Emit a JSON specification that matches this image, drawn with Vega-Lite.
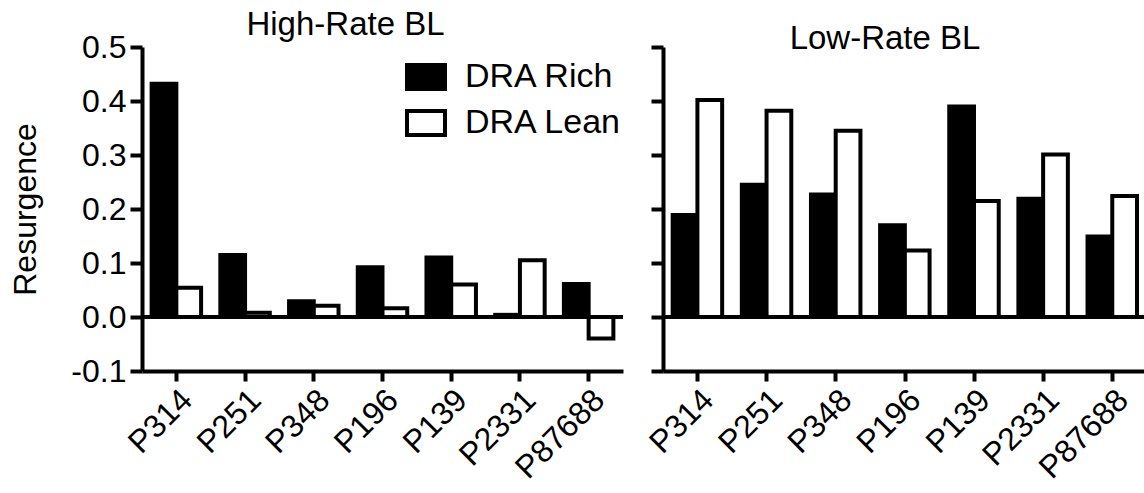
{
  "$schema": "https://vega.github.io/schema/vega-lite/v6.json",
  "padding": {"left": 9, "top": 9, "right": 0, "bottom": 0},
  "background": "white",
  "config": {
    "font": "Liberation Sans",
    "view": {"stroke": null},
    "axis": {"grid": false, "domainColor": "black", "domainWidth": 4, "tickColor": "black", "tickWidth": 4, "labelColor": "black", "titleColor": "black", "labelFont": "Liberation Sans", "titleFont": "Liberation Sans", "titleFontWeight": "normal"},
    "title": {"font": "Liberation Sans", "fontWeight": "normal", "color": "black"}
  },
  "datasets": {
    "d": [
      {"panel": "High", "probe": "P314", "series": "DRA Rich", "value": 0.432},
      {"panel": "High", "probe": "P314", "series": "DRA Lean", "value": 0.054},
      {"panel": "High", "probe": "P251", "series": "DRA Rich", "value": 0.115},
      {"panel": "High", "probe": "P251", "series": "DRA Lean", "value": 0.008},
      {"panel": "High", "probe": "P348", "series": "DRA Rich", "value": 0.029},
      {"panel": "High", "probe": "P348", "series": "DRA Lean", "value": 0.021},
      {"panel": "High", "probe": "P196", "series": "DRA Rich", "value": 0.092},
      {"panel": "High", "probe": "P196", "series": "DRA Lean", "value": 0.016},
      {"panel": "High", "probe": "P139", "series": "DRA Rich", "value": 0.110},
      {"panel": "High", "probe": "P139", "series": "DRA Lean", "value": 0.060},
      {"panel": "High", "probe": "P2331", "series": "DRA Rich", "value": 0.004},
      {"panel": "High", "probe": "P2331", "series": "DRA Lean", "value": 0.105},
      {"panel": "High", "probe": "P87688", "series": "DRA Rich", "value": 0.061},
      {"panel": "High", "probe": "P87688", "series": "DRA Lean", "value": -0.040},
      {"panel": "Low", "probe": "P314", "series": "DRA Rich", "value": 0.189},
      {"panel": "Low", "probe": "P314", "series": "DRA Lean", "value": 0.402},
      {"panel": "Low", "probe": "P251", "series": "DRA Rich", "value": 0.245},
      {"panel": "Low", "probe": "P251", "series": "DRA Lean", "value": 0.382},
      {"panel": "Low", "probe": "P348", "series": "DRA Rich", "value": 0.227},
      {"panel": "Low", "probe": "P348", "series": "DRA Lean", "value": 0.345},
      {"panel": "Low", "probe": "P196", "series": "DRA Rich", "value": 0.170},
      {"panel": "Low", "probe": "P196", "series": "DRA Lean", "value": 0.123},
      {"panel": "Low", "probe": "P139", "series": "DRA Rich", "value": 0.390},
      {"panel": "Low", "probe": "P139", "series": "DRA Lean", "value": 0.215},
      {"panel": "Low", "probe": "P2331", "series": "DRA Rich", "value": 0.219},
      {"panel": "Low", "probe": "P2331", "series": "DRA Lean", "value": 0.301},
      {"panel": "Low", "probe": "P87688", "series": "DRA Rich", "value": 0.149},
      {"panel": "Low", "probe": "P87688", "series": "DRA Lean", "value": 0.224}
    ]
  },
  "spacing": 18,
  "resolve": {"legend": {"fill": "independent"}},
  "hconcat": [
    {
      "width": 481,
      "height": 324,
      "data": {"name": "d"},
      "transform": [{"filter": "datum.panel === 'High'"}],
      "title": {"text": "High-Rate BL", "fontSize": 33, "anchor": "middle", "frame": "group", "dx": -37, "offset": -11},
      "layer": [
        {
          "mark": {"type": "bar", "stroke": "black", "strokeWidth": 4},
          "encoding": {
            "x": {"field": "probe", "type": "nominal", "sort": ["P314", "P251", "P348", "P196", "P139", "P2331", "P87688"], "scale": {"paddingInner": 0.28, "paddingOuter": 0.14}, "axis": {"title": null, "labelAngle": -45, "labelAlign": "right", "labelBaseline": "top", "labelFontSize": 32, "tickSize": 10, "labelPadding": 3}},
            "xOffset": {"field": "series", "sort": ["DRA Rich", "DRA Lean"]},
            "y": {"field": "value", "type": "quantitative", "stack": null, "scale": {"domain": [-0.1, 0.5], "nice": false, "zero": false}, "axis": {"title": "Resurgence", "values": [-0.1, 0, 0.1, 0.2, 0.3, 0.4, 0.5], "labelExpr": "(datum.value < -0.01 ? '-' : '') + format(abs(datum.value), '.1f')", "labelFontSize": 32, "titleFontSize": 32, "tickSize": 12, "labelPadding": 4, "titlePadding": 28}},
            "y2": {"datum": 0},
            "fill": {"field": "series", "type": "nominal", "scale": {"domain": ["DRA Rich", "DRA Lean"], "range": ["black", "white"]}, "legend": {"title": null, "orient": "none", "legendX": 263, "legendY": 9, "symbolType": "M-1,-0.63H1V0.63H-1Z", "symbolSize": 1444, "symbolStrokeColor": "black", "symbolStrokeWidth": 4, "labelFontSize": 34, "labelOffset": 18, "rowPadding": 5, "labelColor": "black", "labelFont": "Liberation Sans"}}
          }
        },
        {
          "mark": {"type": "rule", "strokeWidth": 4, "color": "black"},
          "encoding": {"y": {"datum": 0}}
        }
      ]
    },
    {
      "width": 484,
      "height": 324,
      "data": {"name": "d"},
      "transform": [{"filter": "datum.panel === 'Low'"}],
      "title": {"text": "Low-Rate BL", "fontSize": 33, "anchor": "middle", "frame": "group", "dx": -20, "offset": -11},
      "layer": [
        {
          "mark": {"type": "bar", "stroke": "black", "strokeWidth": 4},
          "encoding": {
            "x": {"field": "probe", "type": "nominal", "sort": ["P314", "P251", "P348", "P196", "P139", "P2331", "P87688"], "scale": {"paddingInner": 0.28, "paddingOuter": 0.14}, "axis": {"title": null, "labelAngle": -45, "labelAlign": "right", "labelBaseline": "top", "labelFontSize": 32, "tickSize": 10, "labelPadding": 3}},
            "xOffset": {"field": "series", "sort": ["DRA Rich", "DRA Lean"]},
            "y": {"field": "value", "type": "quantitative", "stack": null, "scale": {"domain": [-0.1, 0.5], "nice": false, "zero": false}, "axis": {"title": null, "labels": false, "values": [-0.1, 0, 0.1, 0.2, 0.3, 0.4, 0.5], "tickSize": 12}},
            "y2": {"datum": 0},
            "fill": {"field": "series", "type": "nominal", "scale": {"domain": ["DRA Rich", "DRA Lean"], "range": ["black", "white"]}, "legend": null}
          }
        },
        {
          "mark": {"type": "rule", "strokeWidth": 4, "color": "black"},
          "encoding": {"y": {"datum": 0}}
        }
      ]
    }
  ]
}
